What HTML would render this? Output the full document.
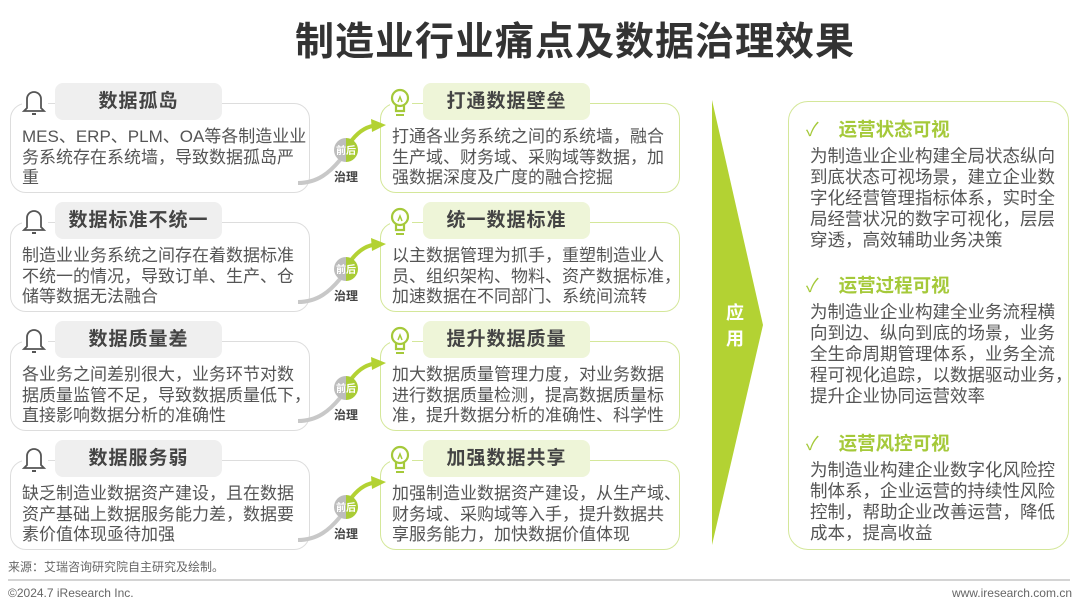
<!DOCTYPE html>
<html><head><meta charset="utf-8"><style>
*{margin:0;padding:0;box-sizing:border-box}
body{width:1080px;height:608px;background:#fff;position:relative;overflow:hidden;font-family:"Liberation Sans","Noto Sans CJK SC",sans-serif;color:#555}
.a{position:absolute}
h1{position:absolute;left:0;width:1150px;top:11px;text-align:center;font-size:39px;font-weight:bold;color:#333;letter-spacing:1px}
.box{position:absolute;border:1.5px solid #ddd;border-radius:16px;background:#fff}
.gbox{border-color:#d4e79a}
.tab{position:absolute;width:167px;height:37px;border-radius:8px;background:#efefef;font-size:19px;font-weight:bold;color:#444;text-align:center;line-height:37px;letter-spacing:1px}
.gtab{background:#eef5d8}
.txt{position:absolute;font-size:17px;line-height:20.5px;color:#555;white-space:nowrap}
.rt{position:absolute;left:810px;font-size:17.5px;line-height:21px;color:#555;white-space:nowrap}
.rh{position:absolute;left:806px;font-size:18.5px;font-weight:bold;color:#a5c93a}
.rh span{font-weight:normal;margin-right:20px}
.zl{position:absolute;font-size:12px;font-weight:bold;color:#444}
svg{z-index:2}
</style></head><body>
<h1>制造业行业痛点及数据治理效果</h1>

<div class="box" style="left:10px;top:103px;width:300px;height:90px"></div>
<div class="tab" style="left:55px;top:83px">数据孤岛</div>
<div class="txt" style="left:22px;top:127px">MES、ERP、PLM、OA等各制造业业<br>务系统存在系统墙，导致数据孤岛严<br>重</div>
<div class="box gbox" style="left:380px;top:103px;width:300px;height:90px"></div>
<div class="tab gtab" style="left:423px;top:83px">打通数据壁垒</div>
<div class="txt" style="left:392px;top:127px">打通各业务系统之间的系统墙，融合<br>生产域、财务域、采购域等数据，加<br>强数据深度及广度的融合挖掘</div>
<div class="zl" style="left:334px;top:168px">治理</div>

<div class="box" style="left:10px;top:222px;width:300px;height:90px"></div>
<div class="tab" style="left:55px;top:202px">数据标准不统一</div>
<div class="txt" style="left:22px;top:246px">制造业业务系统之间存在着数据标准<br>不统一的情况，导致订单、生产、仓<br>储等数据无法融合</div>
<div class="box gbox" style="left:380px;top:222px;width:300px;height:90px"></div>
<div class="tab gtab" style="left:423px;top:202px">统一数据标准</div>
<div class="txt" style="left:392px;top:246px">以主数据管理为抓手，重塑制造业人<br>员、组织架构、物料、资产数据标准，<br>加速数据在不同部门、系统间流转</div>
<div class="zl" style="left:334px;top:287px">治理</div>

<div class="box" style="left:10px;top:341px;width:300px;height:90px"></div>
<div class="tab" style="left:55px;top:321px">数据质量差</div>
<div class="txt" style="left:22px;top:365px">各业务之间差别很大，业务环节对数<br>据质量监管不足，导致数据质量低下，<br>直接影响数据分析的准确性</div>
<div class="box gbox" style="left:380px;top:341px;width:300px;height:90px"></div>
<div class="tab gtab" style="left:423px;top:321px">提升数据质量</div>
<div class="txt" style="left:392px;top:365px">加大数据质量管理力度，对业务数据<br>进行数据质量检测，提高数据质量标<br>准，提升数据分析的准确性、科学性</div>
<div class="zl" style="left:334px;top:406px">治理</div>

<div class="box" style="left:10px;top:460px;width:300px;height:90px"></div>
<div class="tab" style="left:55px;top:440px">数据服务弱</div>
<div class="txt" style="left:22px;top:484px">缺乏制造业数据资产建设，且在数据<br>资产基础上数据服务能力差，数据要<br>素价值体现亟待加强</div>
<div class="box gbox" style="left:380px;top:460px;width:300px;height:90px"></div>
<div class="tab gtab" style="left:423px;top:440px">加强数据共享</div>
<div class="txt" style="left:392px;top:484px">加强制造业数据资产建设，从生产域、<br>财务域、采购域等入手，提升数据共<br>享服务能力，加快数据价值体现</div>
<div class="zl" style="left:334px;top:525px">治理</div>

<div class="box gbox" style="left:788px;top:101px;width:281px;height:449px;border-radius:20px"></div>

<svg class="a" style="left:0;top:0" width="1080" height="608">
<polygon points="712,100 763,325 712,545" fill="#b3d233"/>
<g id="r">
<path d="M298,183 C318,183 330,172 340,160" stroke="#c8c8c8" stroke-width="4" fill="none"/>
<path d="M352,140 C360,130 368,126 378,125" stroke="#b3d233" stroke-width="4" fill="none"/>
<polygon points="371,119 386,125 372,132" fill="#b3d233"/>
<path d="M346,138 A12,12 0 0 0 346,162 Z" fill="#bdbdbd"/>
<path d="M346,138 A12,12 0 0 1 346,162 Z" fill="#a9cc35"/>
<text x="346" y="154" font-size="10" font-weight="bold" fill="#fff" text-anchor="middle" font-family="Noto Sans CJK SC">前后</text>
<rect x="22" y="88" width="26" height="28" fill="#fff"/>
<path d="M27,108 L27,99 A7,7 0 0 1 41,99 L41,108 L44,111 L24,111 Z" stroke="#555" stroke-width="1.8" fill="none"/>
<line x1="32" y1="114" x2="36" y2="114" stroke="#555" stroke-width="2"/>
<rect x="390" y="88" width="22" height="30" fill="#fff"/>
<circle cx="400" cy="98" r="8" stroke="#a5c93a" stroke-width="2.2" fill="none"/>
<path d="M396,105 L396,111 L404,111 L404,105" stroke="#a5c93a" stroke-width="2.2" fill="none"/>
<line x1="396" y1="115" x2="404" y2="115" stroke="#a5c93a" stroke-width="2"/>
<path d="M398,102 L400,97 L402,102" stroke="#a5c93a" stroke-width="1.5" fill="none"/>
</g>
<use href="#r" y="119"/>
<use href="#r" y="238"/>
<use href="#r" y="357"/>
<line x1="8" y1="580" x2="1070" y2="580" stroke="#aaa" stroke-width="1"/>
</svg>

<div class="a" style="left:723px;top:300px;width:24px;font-size:18px;font-weight:bold;color:#fff;line-height:26px;text-align:center;z-index:3">应<br>用</div>

<div class="rh" style="top:116px"><span>✓</span>运营状态可视</div>
<div class="rt" style="top:146px">为制造业企业构建全局状态纵向<br>到底状态可视场景，建立企业数<br>字化经营管理指标体系，实时全<br>局经营状况的数字可视化，层层<br>穿透，高效辅助业务决策</div>
<div class="rh" style="top:272px"><span>✓</span>运营过程可视</div>
<div class="rt" style="top:302px">为制造业企业构建全业务流程横<br>向到边、纵向到底的场景，业务<br>全生命周期管理体系，业务全流<br>程可视化追踪，以数据驱动业务，<br>提升企业协同运营效率</div>
<div class="rh" style="top:430px"><span>✓</span>运营风控可视</div>
<div class="rt" style="top:460px">为制造业构建企业数字化风险控<br>制体系，企业运营的持续性风险<br>控制，帮助企业改善运营，降低<br>成本，提高收益</div>

<div class="a" style="left:8px;top:558px;font-size:12px;color:#666">来源：艾瑞咨询研究院自主研究及绘制。</div>
<div class="a" style="left:8px;top:586px;font-size:12px;color:#666">©2024.7 iResearch Inc.</div>
<div class="a" style="right:8px;top:586px;font-size:12px;color:#666">www.iresearch.com.cn</div>
</body></html>
